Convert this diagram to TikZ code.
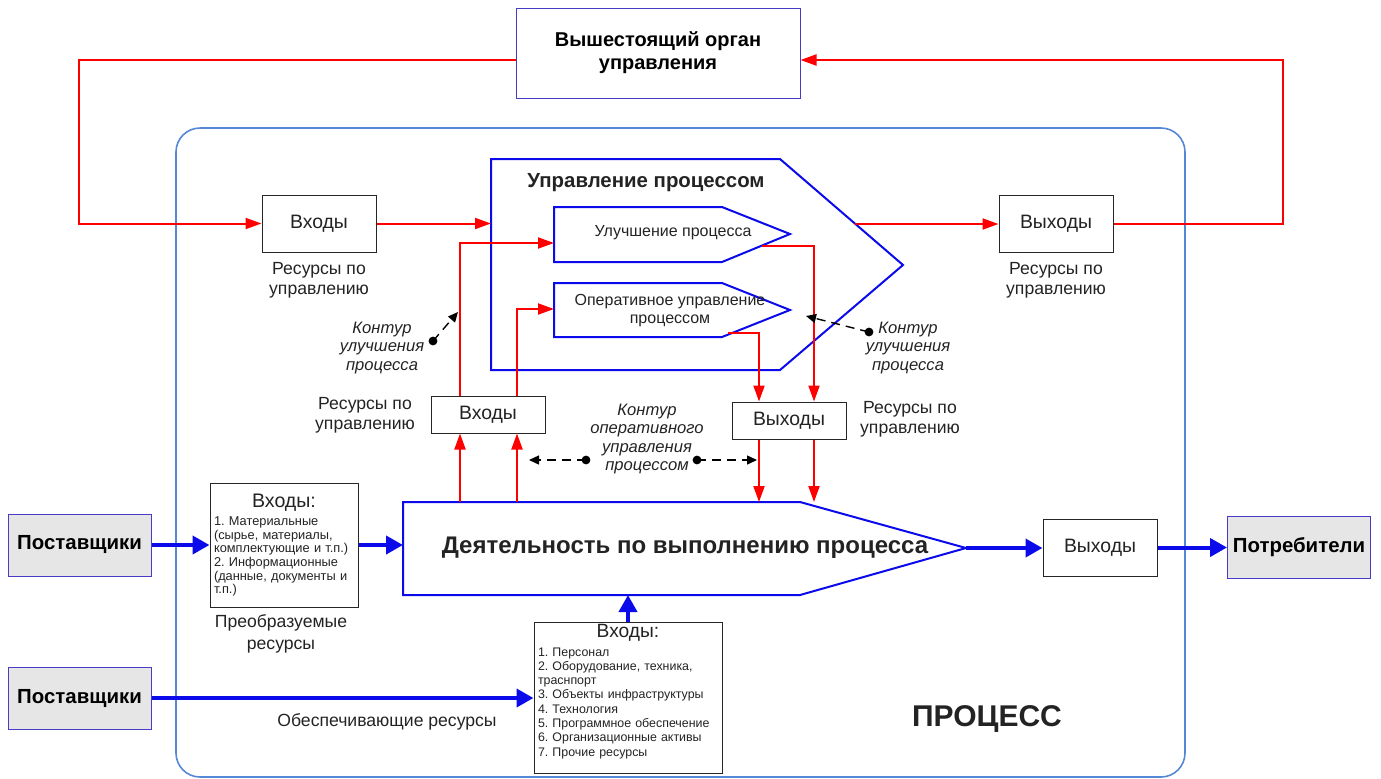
\documentclass[tikz,border=0pt]{standalone}
\usepackage{fontspec}
\setmainfont{Liberation Sans}
\usetikzlibrary{arrows.meta}
\frenchspacing

\definecolor{ctrlred}{RGB}{255,0,0}
\definecolor{pentblue}{RGB}{10,10,235}
\definecolor{procblue}{RGB}{85,135,215}
\definecolor{framepurple}{RGB}{70,60,200}
\definecolor{suppgray}{RGB}{230,230,230}
\definecolor{inkgray}{RGB}{35,35,35}

\begin{document}
\begin{tikzpicture}[x=0.5pt, y=-0.5pt,
    box/.style={draw=black!85, line width=0.5pt, fill=white, minimum width=57pt, minimum height=28.5pt, inner sep=1pt, text=inkgray, font=\fontsize{9.7}{11}\selectfont},
    smallbox/.style={box, minimum height=18.5pt},
    party/.style={draw=framepurple, line width=0.5pt, fill=suppgray, minimum width=71.5pt, minimum height=31pt, inner sep=1pt, font=\bfseries\fontsize{10.2}{12}\selectfont},
    restext/.style={align=center, text=inkgray, font=\fontsize{8.8}{10}\selectfont},
    contour/.style={align=center, text=inkgray, font=\itshape\fontsize{8.3}{9.3}\selectfont},
    pent/.style={draw=pentblue, line width=1pt},
    redarr/.style={draw=ctrlred, line width=1pt, -{Triangle[length=8pt,width=5.5pt]}},
    bluearr/.style={draw=pentblue, line width=2pt, -{Triangle[length=8.5pt,width=9pt]}},
    dasharr/.style={draw=black, dash pattern=on 4.5pt off 3pt, line width=0.7pt, -{Triangle[length=5pt,width=4.5pt]}},
    listbox/.style={draw=black!85, line width=0.5pt, fill=white, align=left, inner xsep=2pt, inner ysep=1pt, text=inkgray}
]
    \useasboundingbox (0,0) rectangle (1381,778);
    \draw[procblue, line width=0.8pt, rounded corners=12pt] (176,128) rectangle (1185,777);

    \node[draw=framepurple, line width=0.5pt, minimum width=142pt, minimum height=45pt, align=center, font=\bfseries\fontsize{10}{11.5}\selectfont] (boss) at (658,53) {Вышестоящий орган\\управления};

    \node[box] (in1) at (319,223.5) {Входы};
    \node[box] (out1) at (1056,223.5) {Выходы};
    \node[restext] at (319,280) {Ресурсы по\\управлению};
    \node[restext] at (1056,280) {Ресурсы по\\управлению};

    \coordinate (lcorner) at (79,60);
    \coordinate (rcorner) at (1283,60);
    \draw[redarr] (boss.west |- lcorner) -- (lcorner) |- (in1.west);
    \draw[redarr] (out1.east) -| (rcorner) -- (boss.east |- rcorner);

    \draw[pent] (491,159) -- (780,159) -- (903,265) -- (780,370) -- (491,370) -- cycle;
    \node[font=\bfseries\fontsize{10.2}{12}\selectfont, text=inkgray] (ctrl) at (646,183) {Управление процессом};
    \coordinate (ctrlin) at (491,224);
    \coordinate (ctrlout) at (855,224);
    \draw[redarr] (in1.east) -- (in1.east -| ctrlin);
    \draw[redarr] (ctrlout) -- (ctrlout -| out1.west);

    \draw[pent] (554,207) -- (722,207) -- (790,234) -- (722,262) -- (554,262) -- cycle;
    \node[font=\fontsize{8}{9}\selectfont, text=inkgray] (imp) at (673,233) {Улучшение процесса};
    \draw[pent] (554,283) -- (722,283) -- (790,310) -- (722,337) -- (554,337) -- cycle;
    \node[align=center, font=\fontsize{8}{9}\selectfont, text=inkgray] (oper) at (670,311) {Оперативное управление\\процессом};

    \draw[pent] (403,502) -- (800,502) -- (966,548) -- (800,595) -- (403,595) -- cycle;
    \node[font=\bfseries\fontsize{12}{14}\selectfont, text=inkgray] (act) at (685,548) {Деятельность по выполнению процесса};

    \node[smallbox] (in2) at (488,414.5) {Входы};
    \node[smallbox] (out2) at (789,420.5) {Выходы};
    \node[restext] at (365,415) {Ресурсы по\\управлению};
    \node[restext] at (910,419) {Ресурсы по\\управлению};

    \coordinate (a1) at (460,502);
    \coordinate (a2) at (517,502);
    \coordinate (b1) at (759,502);
    \coordinate (b2) at (814,502);
    \coordinate (impin) at (554,243);
    \coordinate (opin) at (554,309);
    \coordinate (impout) at (762,246);
    \coordinate (opout) at (728,333);
    \draw[redarr] (a1) -- (a1 |- in2.south);
    \draw[redarr] (a2) -- (a2 |- in2.south);
    \draw[redarr] (a1 |- in2.north) |- (impin);
    \draw[redarr] (a2 |- in2.north) |- (opin);
    \draw[redarr] (impout) -| (b2 |- out2.north);
    \draw[redarr] (opout) -| (b1 |- out2.north);
    \draw[redarr] (b1 |- out2.south) -- (b1);
    \draw[redarr] (b2 |- out2.south) -- (b2);

    \node[contour] (kimp1) at (382,348) {Контур\\улучшения\\процесса};
    \node[contour] (kimp2) at (908,348) {Контур\\улучшения\\процесса};
    \node[contour] (kop) at (647,439) {Контур\\оперативного\\управления\\процессом};
    \coordinate (d1) at (433,341);
    \coordinate (d1tip) at (458,312);
    \coordinate (d2) at (869,332);
    \coordinate (d2tip) at (806,316);
    \coordinate (d3) at (586,460);
    \coordinate (d3tip) at (529,460);
    \coordinate (d4) at (697,460);
    \coordinate (d4tip) at (757,460);
    \foreach \d in {d1,d2,d3,d4} {
        \fill (\d) circle[radius=2.2pt];
        \draw[dasharr] (\d) -- (\d tip);
    }

    \node[party] (sup1) at (79.5,545) {Поставщики};
    \node[party] (sup2) at (79.5,698) {Поставщики};
    \node[party] (cons) at (1299,547.5) {Потребители};
    \node[box] (outM) at (1100,547.5) {Выходы};

    \node[listbox, text width=70pt, minimum height=62pt, font=\fontsize{6.4}{6.8}\selectfont] (inA) at (284,545)
        {\makebox[\hsize][c]{\fontsize{9.8}{11}\selectfont Входы:}\\[2.5pt]
        1. Материальные\\(сырье, материалы,\\комплектующие и т.п.)\\2. Информационные\\(данные, документы и\\т.п.)};
    \node[listbox, text width=90pt, minimum height=75.5pt, font=\fontsize{6.2}{7.15}\selectfont] (inB) at (628,697.5)
        {\makebox[\hsize][c]{\fontsize{9.6}{11}\selectfont Входы:}\\[2pt]
        1. Персонал\\2. Оборудование, техника,\\траснпорт\\3. Объекты инфраструктуры\\4. Технология\\5. Программное обеспечение\\6. Организационные активы\\7. Прочие ресурсы\\ \mbox{}};

    \node[restext, font=\fontsize{8.8}{11}\selectfont] at (281,634) {Преобразуемые\\ресурсы};
    \node[restext] at (387,722) {Обеспечивающие ресурсы};
    \node[font=\bfseries\fontsize{15}{17}\selectfont, text=inkgray] at (987,719) {ПРОЦЕСС};

    \coordinate (actin) at (403,545);
    \coordinate (acttip) at (966,548);
    \coordinate (actbot) at (628,595);
    \draw[bluearr] (sup1.east) -- (sup1.east -| inA.west);
    \draw[bluearr] (inA.east |- actin) -- (actin);
    \draw[bluearr] (acttip) -- (acttip -| outM.west);
    \draw[bluearr] (outM.east) -- (outM.east -| cons.west);
    \draw[bluearr] (sup2.east) -- (sup2.east -| inB.west);
    \draw[bluearr] (actbot |- inB.north) -- (actbot);
\end{tikzpicture}
\end{document}
